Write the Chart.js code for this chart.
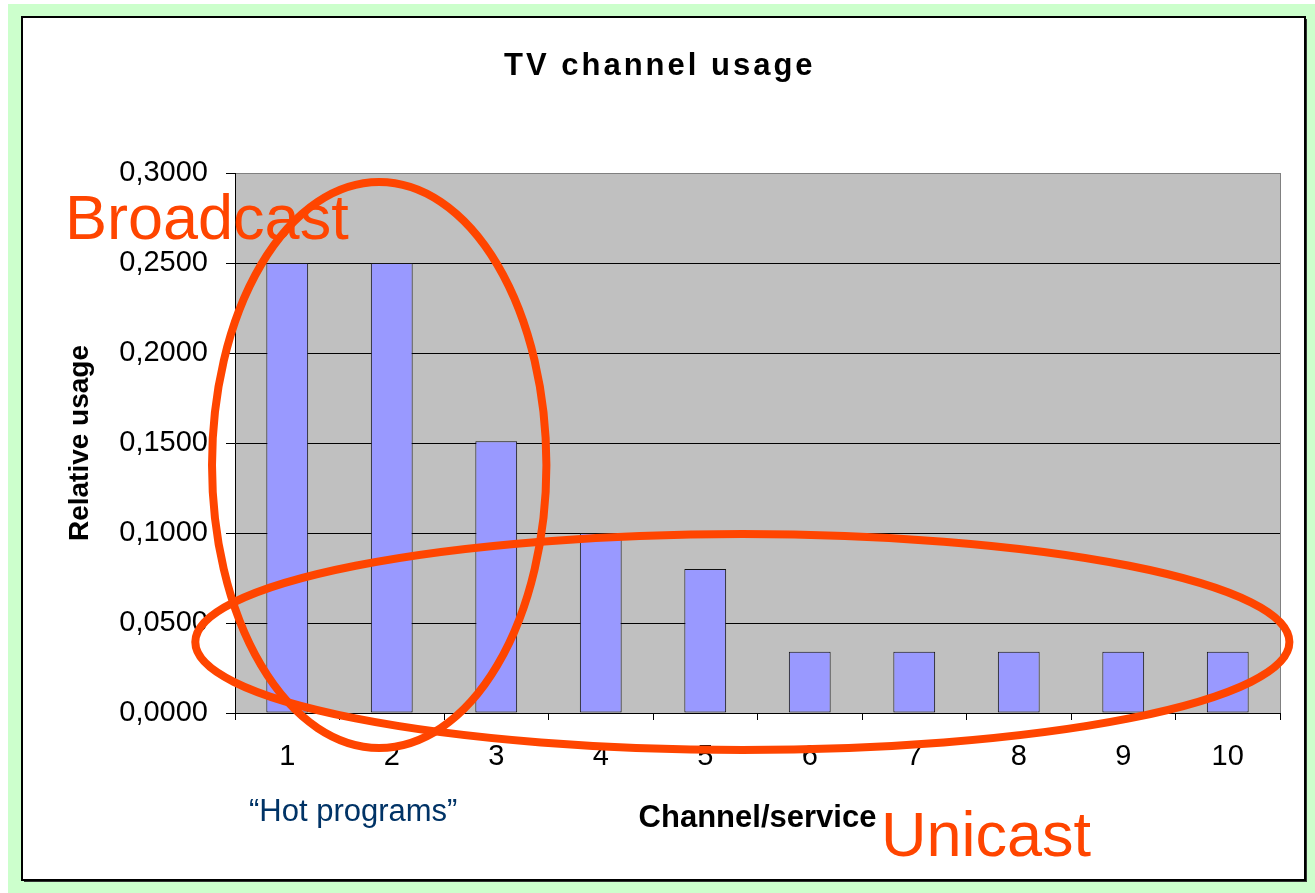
<!DOCTYPE html>
<html lang="en">

<head>
    <meta charset="UTF-8">
    <meta name="viewport" content="width=device-width, initial-scale=1.0">
    <script src="https://cdn.jsdelivr.net/npm/chart.js@4.4.1/dist/chart.umd.min.js"></script>
    <title>TV channel usage</title>
    <style>
        html, body { margin: 0; padding: 0; background: #fff; }
        #wrap { width: 1315px; height: 893px; }
    </style>
</head>

<body>
    <div id="wrap">
        <canvas id="myChart" width="1315" height="893"></canvas>
    </div>
    <script>
        // data
        const channels = ['1', '2', '3', '4', '5', '6', '7', '8', '9', '10'];
        const usage = [0.25, 0.25, 0.151, 0.1, 0.08, 0.034, 0.034, 0.034, 0.034, 0.034];
        const yTickLabels = ['0,0000', '0,0500', '0,1000', '0,1500', '0,2000', '0,2500', '0,3000'];

        const ORANGE = '#ff4500';
        const FONT = '"Liberation Sans", Arial, sans-serif';

        // ellipses in data units (category index / value) so they follow the axes
        const rings = [
            { cx: 0.88, cy: 0.1378, rx: 1.6, ry: 0.1572 },   // broadcast
            { cx: 4.355, cy: 0.0394, rx: 5.235, ry: 0.06 }   // unicast
        ];

        const v_frame = {
            id: 'frame',
            beforeDraw: function (chart) {
                const c = chart.ctx;
                const a = chart.chartArea;
                c.save();
                c.fillStyle = '#ccffcc';
                c.fillRect(8, 4, 1307, 889);
                // shadow + white panel
                c.fillStyle = '#333';
                c.fillRect(24, 19, 1283, 863);
                c.fillStyle = '#fff';
                c.fillRect(22, 17, 1283, 863);
                c.strokeStyle = '#000';
                c.lineWidth = 2;
                c.strokeRect(22, 17, 1283, 863);
                // plot area
                c.fillStyle = '#c0c0c0';
                c.fillRect(a.left, a.top, a.right - a.left, a.bottom - a.top);
                c.restore();
            },
            afterDraw: function (chart) {
                const c = chart.ctx;
                const a = chart.chartArea;
                const x = chart.scales.x;
                const y = chart.scales.y;
                c.save();
                // right edge of plot area
                c.strokeStyle = '#808080';
                c.lineWidth = 1;
                c.beginPath();
                c.moveTo(a.right + 0.5, a.top);
                c.lineTo(a.right + 0.5, a.bottom);
                c.stroke();

                // title, spaced out like the original
                c.fillStyle = '#000';
                c.font = 'bold 31px ' + FONT;
                c.textBaseline = 'alphabetic';
                c.textAlign = 'left';
                c.letterSpacing = '3px';
                c.fillText('TV channel usage', 504, 75);
                c.letterSpacing = '0px';

                // rings
                c.strokeStyle = ORANGE;
                c.lineWidth = 8;
                rings.forEach(function (r) {
                    const px = x.getPixelForValue(r.cx);
                    const py = y.getPixelForValue(r.cy);
                    const w = Math.abs(x.getPixelForValue(r.cx + r.rx) - px);
                    const h = Math.abs(y.getPixelForValue(r.cy + r.ry) - py);
                    c.beginPath();
                    c.ellipse(px, py, w, h, 0, 0, Math.PI * 2);
                    c.stroke();
                });

                // labels
                c.fillStyle = ORANGE;
                c.font = '63px ' + FONT;
                c.fillText('Broadcast', 65, 239);
                c.fillText('Unicast', 881, 856);
                c.fillStyle = '#003366';
                c.font = '31px ' + FONT;
                c.fillText('\u201CHot programs\u201D', 249, 821);
                c.restore();
            }
        };

        const ctx = document.getElementById('myChart').getContext('2d');
        const myChart = new Chart(ctx, {
            type: 'bar',
            data: {
                labels: channels,
                datasets: [{
                    label: 'Relative usage',
                    data: usage,
                    backgroundColor: '#9999ff',
                    borderColor: '#111',
                    borderWidth: 1,
                    borderSkipped: false,
                    categoryPercentage: 1,
                    barPercentage: 0.4
                }]
            },
            options: {
                responsive: false,
                animation: false,
                devicePixelRatio: 1,
                layout: { padding: { left: 22, right: 35, top: 173, bottom: 13 } },
                plugins: {
                    legend: { display: false },
                    tooltip: { enabled: false },
                    title: { display: false }
                },
                scales: {
                    x: {
                        afterFit: function (s) { s.height = 167; },
                        grid: {
                            offset: true,
                            drawOnChartArea: false,
                            tickLength: 7,
                            color: '#000'
                        },
                        border: { color: '#000', width: 1 },
                        ticks: {
                            color: '#000',
                            padding: 20,
                            font: { family: FONT, size: 29 }
                        },
                        title: {
                            display: true,
                            text: 'Channel/service',
                            color: '#000',
                            font: { family: FONT, size: 31, weight: 'bold' },
                            padding: { top: 0, bottom: 43 }
                        }
                    },
                    y: {
                        min: 0,
                        max: 0.3,
                        afterFit: function (s) { s.width = 213; },
                        grid: {
                            tickLength: 9,
                            color: function (g) { return g.tick && g.tick.value >= 0.3 ? '#808080' : '#000'; },
                            tickColor: '#000'
                        },
                        border: { color: '#000', width: 1 },
                        ticks: {
                            stepSize: 0.05,
                            color: '#000',
                            padding: 18,
                            font: { family: FONT, size: 29 },
                            callback: function (v, i) { return yTickLabels[i]; }
                        },
                        title: {
                            display: true,
                            text: 'Relative usage',
                            color: '#000',
                            font: { family: FONT, size: 28, weight: 'bold' },
                            padding: { top: 41, bottom: 0 }
                        }
                    }
                }
            },
            plugins: [v_frame]
        });
    </script>

</body>

</html>
